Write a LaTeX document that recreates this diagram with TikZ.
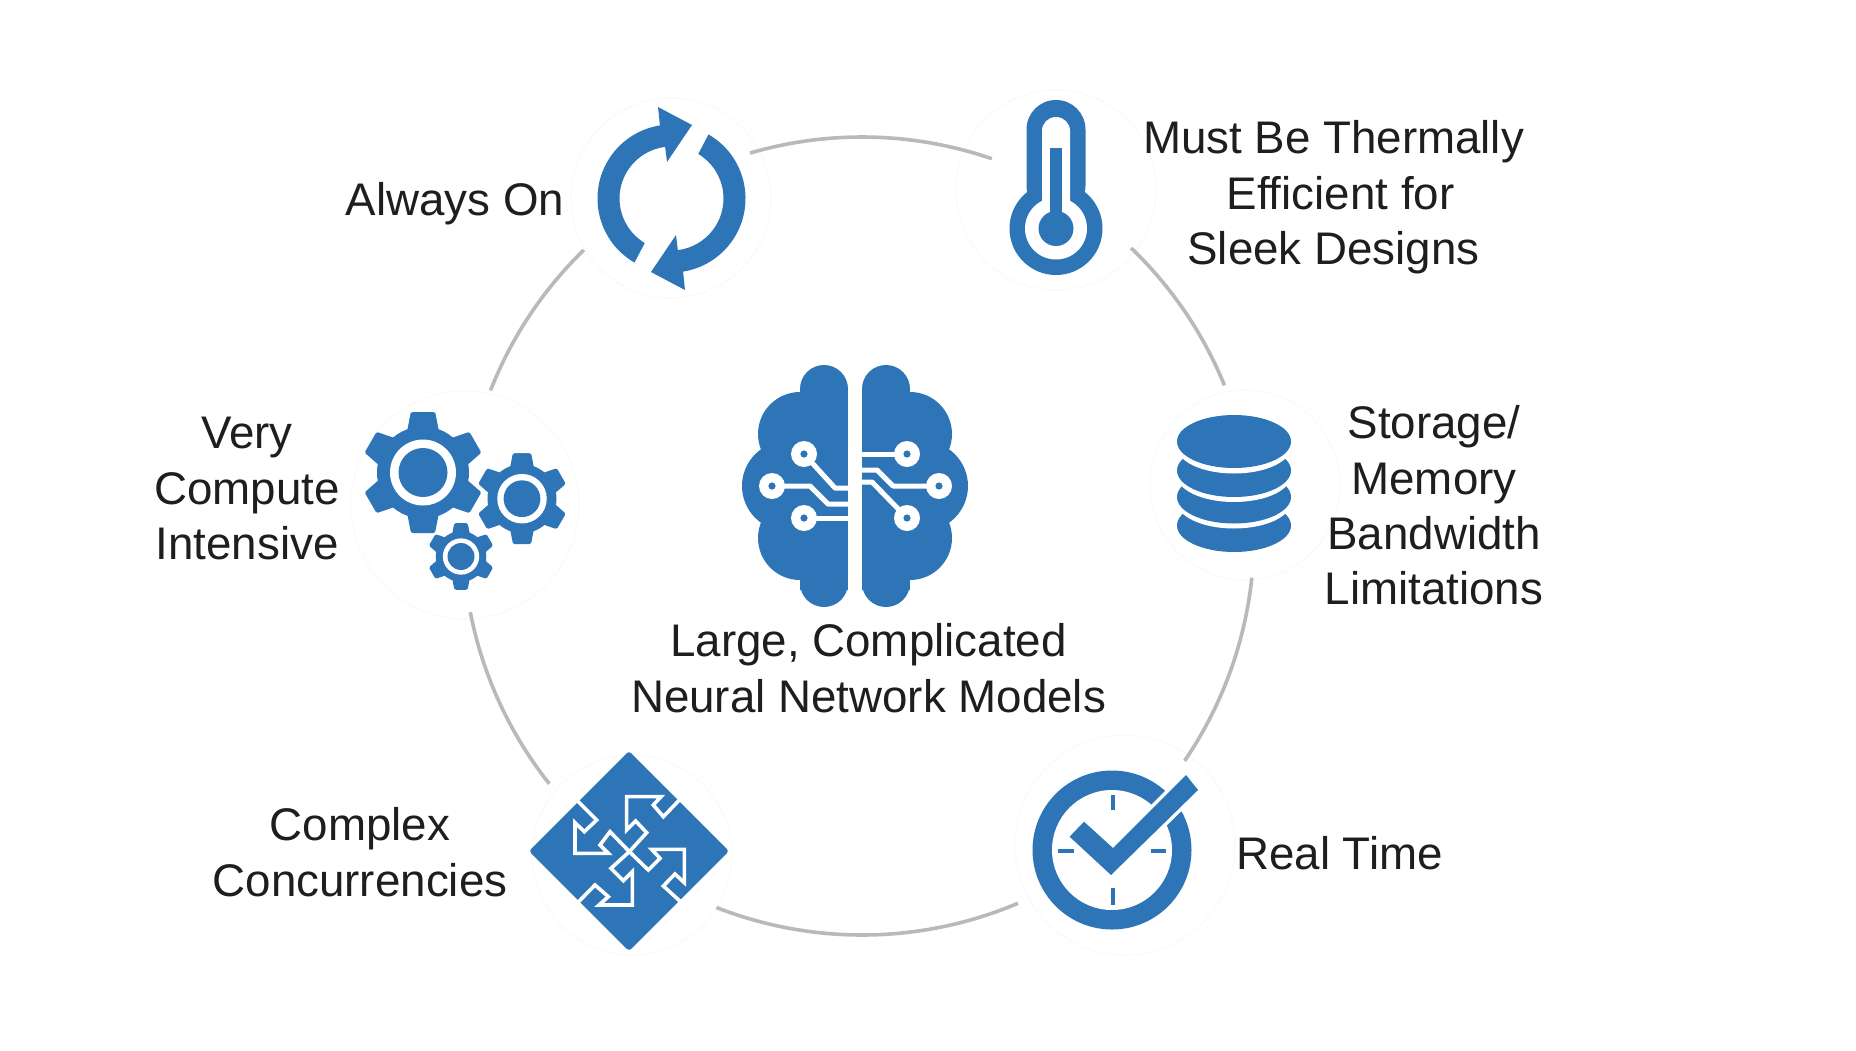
\documentclass[tikz,border=0pt]{standalone}
\usepackage{fontspec}
\setmainfont{Liberation Sans}
\definecolor{iconblue}{HTML}{2E75B8}
\definecolor{ringgray}{HTML}{B9B9B9}
\definecolor{halogray}{HTML}{FAFAFA}
\definecolor{labelink}{HTML}{1E1E1E}
\tikzset{
  x=1pt,y=1pt,
  label text/.style={font=\fontsize{45.7}{55.4}\selectfont,text=labelink,align=center,inner sep=0pt},
  halo/.style={circle,draw=halogray,line width=1.2pt,fill=white,inner sep=0pt},
  ringline/.style={draw=ringgray,line width=3.6pt},
  wire/.style={draw=white,line width=5pt,line join=round},
  seam/.style={draw=white,line width=3.6pt,line join=miter},
  tick/.style={draw=iconblue,line width=4.6pt},
}
\newcommand{\ringarc}[3]{\draw[ringline] ([shift={(#2:399pt)}]#1) arc[start angle=#2,end angle=#3,radius=399pt];}
\newcommand{\gearicon}[3]{%
  \begin{scope}[shift={(#1,#2)},scale=#3]
    \fill[iconblue] (0,0) circle (46);
    \foreach \a in {90,150,...,450}{
      \fill[iconblue,rotate=\a,rounded corners=1.5pt] (40,-16) -- (60.5,-12) -- (60.5,12) -- (40,16) -- cycle;
    }
    \fill[white] (0,0) circle (33);
    \fill[iconblue] (0,0) circle (24.5);
  \end{scope}}
\newcommand{\wirenode}[1]{\fill[white] (#1) circle (13); \fill[iconblue] (#1) circle (3.6);}
\begin{document}
\begin{tikzpicture}
\useasboundingbox (0,0) rectangle (1856,-1050);
\fill[white] (0,0) rectangle (1856,-1050);
\coordinate (hub) at (862,-536);
\coordinate (hubright) at (855,-536);

% faint discs behind the icons
\node[halo,minimum size=200pt] (discOn) at (671,-198) {};
\node[halo,minimum size=200pt] (discHeat) at (1056,-190) {};
\node[halo,minimum size=190pt] (discMem) at (1245,-485) {};
\node[halo,minimum size=220pt] (discTime) at (1125,-845) {};
\node[halo,minimum size=200pt] (discPuzzle) at (632,-855) {};
\node[halo,minimum size=228pt] (discGears) at (465,-505) {};

% ring segments
\ringarc{hub}{106.3}{71}
\ringarc{hubright}{46.2}{22.2}
\ringarc{hubright}{-6}{-34.3}
\ringarc{hub}{-67}{-111.4}
\ringarc{hub}{-141.6}{-169}
\ringarc{hub}{158.6}{134.2}

% refresh icon
\foreach \r in {0,180}{
  \begin{scope}[shift={(671.5,-198.5)},rotate=\r]
    \fill[iconblue] (240:74) arc[start angle=240,end angle=99,radius=74]
      -- (-13.5,91.5) -- (20.5,73.5) -- (-4.5,36.5) -- (97:52)
      arc[start angle=97,end angle=239,radius=52] -- cycle;
  \end{scope}
}

% thermometer icon
\fill[iconblue,rounded corners=29.4pt] (1026.5,-215) rectangle (1085.5,-100);
\fill[iconblue] (1056,-228.5) circle (46.5);
\fill[white,rounded corners=13.9pt] (1042,-215) rectangle (1070,-117);
\fill[white] (1056,-228.5) circle (31);
\fill[iconblue] (1056,-228.5) circle (17.5);
\fill[iconblue] (1050,-148) rectangle (1061.5,-225);

% database icon
\fill[iconblue] (1234,-525.5) ellipse (57 and 26.5);
\fill[white] (1234,-502) ellipse (57 and 26.5);
\fill[iconblue] (1234,-497) ellipse (57 and 26.5);
\fill[white] (1234,-475.5) ellipse (57 and 26.5);
\fill[iconblue] (1234,-470.5) ellipse (57 and 26.5);
\fill[white] (1234,-447) ellipse (57 and 26.5);
\fill[iconblue] (1234,-441.5) ellipse (57 and 26.5);

% gears icon
\gearicon{423}{-472.5}{1}
\gearicon{522}{-498.7}{0.75}
\gearicon{461}{-556.5}{0.55}

% brain icon
\foreach \t in {0,1}{
  \begin{scope}[shift={(1710*\t,0)},xscale=1-2*\t]
    \begin{scope}
      \clip (700,-340) rectangle (848,-630);
      \fill[iconblue] (824,-389) circle (24);
      \fill[iconblue] (800,-434) circle (42);
      \fill[iconblue] (787,-486) circle (45);
      \fill[iconblue] (800,-538) circle (42);
      \fill[iconblue] (824,-583) circle (24);
      \fill[iconblue] (800,-390) rectangle (848,-590);
    \end{scope}
  \end{scope}
}
\draw[wire] (804,-454) -- (835,-488) -- (848,-488);
\draw[wire] (772,-486) -- (810,-486) -- (828,-504) -- (848,-504);
\draw[wire] (804,-518) -- (848,-518);
\draw[wire] (907,-454) -- (862,-454);
\draw[wire] (939,-486) -- (893,-486) -- (877,-470) -- (862,-470);
\draw[wire] (907,-518) -- (872,-482) -- (862,-482);
\wirenode{804,-454}
\wirenode{772,-486}
\wirenode{804,-518}
\wirenode{907,-454}
\wirenode{939,-486}
\wirenode{907,-518}

% puzzle icon
\fill[iconblue,rounded corners=3pt] (529,-851) -- (629,-751) -- (729,-851) -- (629,-951) -- cycle;
\begin{scope}[shift={(525,-750)},x=0.33333pt,y=-0.33333pt]
  \draw[seam] (465,148) -- (415,200) -- (385,165) -- (408,140) -- (305,140) -- (305,240) -- (332,213) -- (365,248) -- (313,305) -- (370,360) -- (405,325) -- (380,298) -- (478,298) -- (478,398) -- (450,372) -- (415,408) -- (470,458);
  \draw[seam] (155,150) -- (215,210) -- (178,245) -- (150,218) -- (150,310) -- (250,310) -- (225,285) -- (255,245) -- (313,305) -- (258,355) -- (295,392) -- (322,365) -- (322,465) -- (222,465) -- (250,440) -- (210,405) -- (158,458);
\end{scope}

% clock icon
\fill[iconblue] (1112,-850) circle (79.5);
\fill[white] (1112,-850) circle (60);
\draw[tick] (1113,-795) -- (1113,-810);
\draw[tick] (1113,-888) -- (1113,-905);
\draw[tick] (1057.5,-851) -- (1074,-851);
\draw[tick] (1151,-851) -- (1166,-851);
\filldraw[fill=iconblue,draw=white,line width=7pt,line join=miter] (1069.6,-836.7) -- (1084,-821.7) -- (1113,-848) -- (1186,-775) -- (1198,-790) -- (1111,-875) -- cycle;
\fill[iconblue] (1069.6,-836.7) -- (1084,-821.7) -- (1113,-848) -- (1186,-775) -- (1198,-790) -- (1111,-875) -- cycle;

% labels
\node[label text] (lblOn) at (455,-203.5) {Always On};
\node[label text] (lblHeat) at (1333.5,-197.5) {Must Be Thermally\\\hspace{14pt}Efficient for\\Sleek Designs};
\node[label text] (lblMem) at (1434,-505.5) {Storage/\\Memory\\Bandwidth\\Limitations};
\node[label text] (lblTime) at (1339.5,-853.5) {Real Time};
\node[label text] (lblPuzzle) at (360,-852) {Complex\\Concurrencies};
\node[label text] (lblGears) at (247,-488.5) {Very\\Compute\\Intensive};
\node[label text] (lblCore) at (868.5,-668) {Large, Complicated\\Neural Network Models};
\end{tikzpicture}
\end{document}
